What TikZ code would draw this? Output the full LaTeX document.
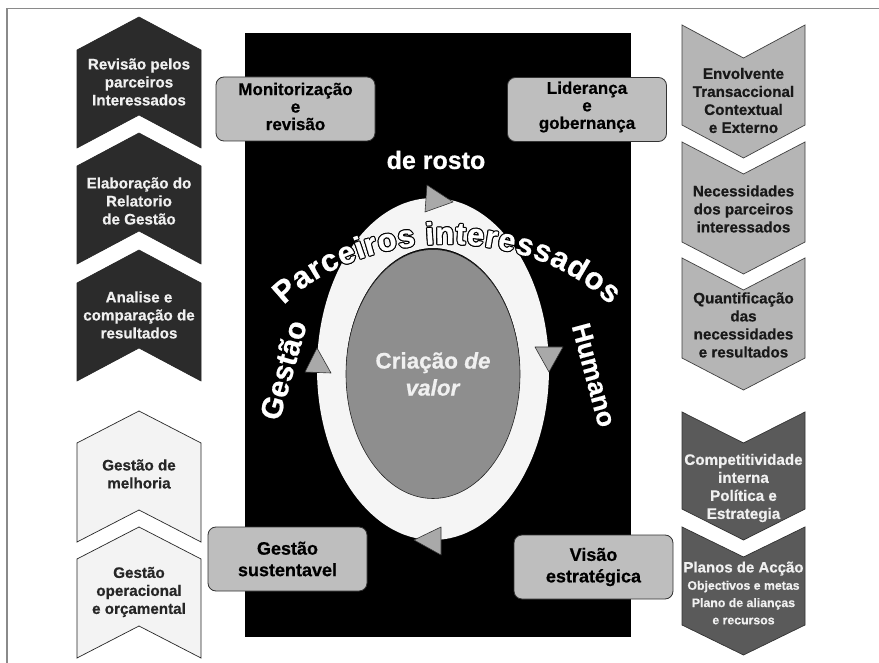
\documentclass[tikz,border=0pt]{standalone}
\usepackage{fontspec}
\setmainfont{Liberation Sans}[BoldFeatures={FakeBold=0.6},BoldItalicFeatures={FakeBold=0.6}]
\usetikzlibrary{shapes.geometric,decorations.text}

\definecolor{darkchev}{HTML}{2B2B2B}
\definecolor{lightchev}{HTML}{F3F3F3}
\definecolor{midchev}{HTML}{B5B5B5}
\definecolor{deepchev}{HTML}{5A5A5A}
\definecolor{boxfill}{HTML}{BEBEBE}
\definecolor{ringfill}{HTML}{F5F5F5}
\definecolor{corefill}{HTML}{8E8E8E}
\definecolor{tipfill}{HTML}{A9A9A9}
\definecolor{paletext}{HTML}{F0F0F0}
\definecolor{frameline}{HTML}{8A8A8A}

% upward chevron: [style]{left x}{apex y}{width}{depth}{body}
\newcommand{\chevup}[6][]{%
  \filldraw[#1] (#2,#3+#5) -- (#2+#4/2,#3) -- (#2+#4,#3+#5) -- (#2+#4,#3+#5+#6)
    -- (#2+#4/2,#3+#6) -- (#2,#3+#5+#6) -- cycle;}
% downward chevron: [style]{left x}{top y}{width}{depth}{body}
\newcommand{\chevdown}[6][]{%
  \filldraw[#1] (#2,#3) -- (#2+#4/2,#3+#5) -- (#2+#4,#3) -- (#2+#4,#3+#6)
    -- (#2+#4/2,#3+#6+#5) -- (#2,#3+#6) -- cycle;}

\newcommand{\arcfont}{\bfseries\fontsize{31}{34}\selectfont}

\tikzset{
  chevtext/.style={align=center, font=\bfseries\fontsize{15.2}{18}\selectfont},
  darkshape/.style={fill=darkchev, draw=black!85, line width=0.6pt},
  paleshape/.style={fill=lightchev, draw=black!85, line width=0.7pt},
  midshape/.style={fill=midchev, draw=black!75, line width=0.7pt},
  deepshape/.style={fill=deepchev, draw=black!80, line width=0.7pt},
  roundbox/.style={draw=black!80, line width=0.8pt, fill=boxfill, rounded corners=8pt,
    minimum width=159pt, minimum height=64pt, inner sep=0pt},
  boxlabel/.style={align=center, inner sep=0pt},
  toptext/.style={font=\bfseries\fontsize{17}{17.5}\selectfont},
  bottext/.style={font=\bfseries\fontsize{18}{21.5}\selectfont},
  tip/.style={fill=tipfill, draw=black!80, line width=0.6pt, line join=round},
  bigwhite/.style={text=white},
}

\begin{document}
\begin{tikzpicture}[x=1pt,y=-1pt]
\useasboundingbox (0,0) rectangle (879,663);
\fill[white] (0,0) rectangle (879,663);
\draw[frameline, line width=1.2pt] (7,663) -- (7,8.5) -- (879,8.5);

% black central panel
\fill[black] (245,33) rectangle (631,637);

% left column: dark upward chevrons
\chevup[darkshape]{77}{17}{124}{33}{98}
\chevup[darkshape]{77}{133}{124}{33}{98}
\chevup[darkshape]{77}{250}{124}{33}{98}
\node[chevtext, text=paletext] (rev) at (139,82) {Revisão pelos\\parceiros\\Interessados};
\node[chevtext, text=paletext] (elab) at (139,201) {Elaboração do\\Relatorio\\de Gestão};
\node[chevtext, text=paletext] (anal) at (139,315) {Analise e\\comparação de\\resultados};

% left column: pale upward chevrons
\chevup[paleshape]{77}{411}{124}{32}{99}
\chevup[paleshape]{77}{527}{124}{32}{99}
\node[chevtext, text=black!85] (melh) at (139,474) {Gestão de\\melhoria};
\node[chevtext, text=black!85] (oper) at (139,592) {Gestão\\operacional\\e orçamental};

% right column: downward chevrons
\chevdown[midshape]{682}{25}{123}{33}{100}
\chevdown[midshape]{682}{142}{123}{32}{100}
\chevdown[midshape]{682}{258}{123}{32}{100}
\chevdown[deepshape]{682}{412}{123}{31}{97}
\chevdown[deepshape]{682}{527}{123}{30}{98}
\node[chevtext, text=black!90] (envo) at (743.5,100.5) {Envolvente\\Transaccional\\Contextual\\e Externo};
\node[chevtext, text=black!90] (nece) at (743.5,209) {Necessidades\\dos parceiros\\interessados};
\node[chevtext, text=black!90] (quan) at (743.5,325) {Quantificação\\das\\necessidades\\e resultados};
\node[chevtext, text=paletext] (comp) at (743.5,488) {Competitividade\\interna\\Política e\\Estrategia};
\node[align=center, text=paletext, font=\bfseries\fontsize{12.3}{17.3}\selectfont] (plan) at (743.5,593)
  {{\fontsize{15}{17.3}\selectfont Planos de Acção}\\
   Objectivos e metas\\
   Plano de alianças\\
   e recursos};

% cycle ring and value core
\fill[ringfill, even odd rule] (433,369) ellipse [x radius=116, y radius=171]
  (433,372.5) ellipse [x radius=87, y radius=124.5];
\node[ellipse, draw=black!85, line width=0.6pt, fill=corefill, minimum width=174pt,
  minimum height=249pt, inner sep=0pt, align=center, text=paletext,
  font=\bfseries\fontsize{22.5}{27}\selectfont] (core) at (433,374)
  {Criação \textit{de}\\ \textit{valor}};

% arrowheads on the ring
\filldraw[tip] (427,185) -- (453,202) -- (425,212) -- cycle;
\filldraw[tip] (535,347) -- (563,347) -- (549,372) -- cycle;
\filldraw[tip] (441,527) -- (441,555) -- (414,540) -- cycle;
\filldraw[tip] (317,348) -- (331,373) -- (305,372) -- cycle;

% curved label, outlined letters
\foreach \dx/\dy in {-1.1/0,1.1/0,0/-1.1,0/1.1,-.8/-.8,.8/.8,-.8/.8,.8/-.8}{
  \path[shift={(\dx,\dy)}, decorate, decoration={text along path,
      text align={fit to path}, text={|\arcfont\color{black}|Parceiros interessados}}]
    ([shift={(218:207 and 159)}]447,403) arc[start angle=218, end angle=322, x radius=207, y radius=159];
}
\path[decorate, decoration={text along path,
    text align={fit to path}, text={|\arcfont\color{white}|Parceiros interessados}}]
  ([shift={(218:207 and 159)}]447,403) arc[start angle=218, end angle=322, x radius=207, y radius=159];

% labels around the ring
\node[bigwhite, font=\bfseries\fontsize{25}{28}\selectfont] (rosto) at (436,160) {de rosto};
\node[bigwhite, font=\bfseries\fontsize{30}{32}\selectfont, rotate=74] (gest) at (283,370) {Gestão};
\node[bigwhite, font=\bfseries\fontsize{26.5}{30}\selectfont, rotate=-75] (huma) at (594,375) {Humano};

% four rounded boxes with their labels
\node[roundbox] (moni) at (295.5,109) {};
\node[roundbox] (lide) at (587,109.5) {};
\node[roundbox] (sust) at (287.5,559) {};
\node[roundbox] (visa) at (593.5,567) {};
\node[boxlabel, toptext] (monitxt) at ([yshift=2.5]moni.center) {Monitorização\\e\\revisão};
\node[boxlabel, toptext] (lidetxt) at ([yshift=2.5]lide.center) {Liderança\\e\\gobernança};
\node[boxlabel, bottext] (susttxt) at (sust.center) {Gestão\\sustentavel};
\node[boxlabel, bottext] (visatxt) at (visa.center) {Visão\\estratégica};
\end{tikzpicture}
\end{document}
